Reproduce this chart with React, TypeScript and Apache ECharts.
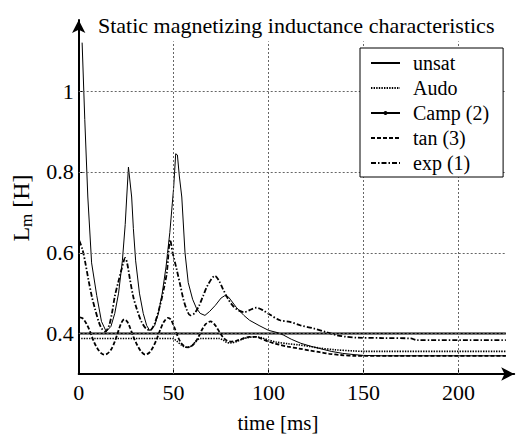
import React, { useEffect, useRef } from "react";
import * as echarts from "echarts";

const FONT = "Liberation Serif, Times New Roman, serif";
const TITLE = "Static magnetizing inductance characteristics";
const X_TICKS = [0, 50, 100, 150, 200];
const Y_TICKS = [0.4, 0.6, 0.8, 1];
const GRID_X = [50, 100, 150, 200];
const GRID_Y = [0.4, 0.6, 0.8, 1];
const T_END = 225;
const GRID_TOP = 1.123;

const unsatData: [number, number][] = [[0, 0.4], [225, 0.4]];

const audoData: [number, number][] = [
  [0, 0.388], [48, 0.388], [50, 0.387], [52, 0.38], [54, 0.372], [56, 0.367], [58, 0.366],
  [60, 0.372], [62, 0.382], [64, 0.388], [74, 0.388], [76, 0.384], [78, 0.378], [80, 0.377],
  [83, 0.38], [86, 0.386], [89, 0.39], [93, 0.392], [96, 0.39], [100, 0.384], [104, 0.379],
  [110, 0.375], [116, 0.372], [122, 0.368], [127, 0.364], [135, 0.36], [145, 0.357],
  [150, 0.356], [225, 0.356],
];

const campData: [number, number][] = [
  [1.8, 1.12], [3.2, 0.93], [4.8, 0.738], [6.8, 0.575], [9.5, 0.494], [12, 0.43], [14.5, 0.405],
  [17, 0.418], [19, 0.45], [21, 0.5], [23, 0.58], [24.5, 0.67], [25.3, 0.738], [26.2, 0.812],
  [27.9, 0.738], [28.8, 0.66], [30, 0.58], [32, 0.5], [34, 0.45], [35.8, 0.42], [37.5, 0.407],
  [40, 0.42], [42, 0.45], [44, 0.5], [46, 0.565], [48, 0.65], [50, 0.76], [51.1, 0.845],
  [52, 0.842], [53, 0.79], [54.3, 0.738], [56, 0.6], [57.7, 0.526], [60, 0.485], [62, 0.463],
  [64, 0.45], [66.5, 0.445], [69, 0.455], [72, 0.47], [75, 0.488], [77, 0.494], [79, 0.49],
  [83, 0.465], [87, 0.445], [90, 0.433], [95, 0.42], [100, 0.408], [105, 0.402], [108, 0.396],
  [112, 0.386], [117, 0.376], [122, 0.369], [127, 0.363], [133, 0.356], [139, 0.351],
  [145, 0.348], [150, 0.346], [160, 0.345], [225, 0.345],
];

const tanData: [number, number][] = [
  [0.5, 0.44], [2, 0.438], [4, 0.425], [6, 0.405], [8, 0.38], [10, 0.362], [12, 0.351],
  [13.5, 0.348], [15, 0.35], [17, 0.36], [19, 0.38], [21, 0.408], [22.5, 0.427], [24, 0.435],
  [25.5, 0.43], [27, 0.415], [29, 0.39], [31, 0.37], [33, 0.355], [35, 0.348], [37, 0.352],
  [39, 0.365], [41, 0.385], [43, 0.41], [45, 0.43], [47, 0.439], [48.5, 0.435], [50, 0.42],
  [52, 0.395], [53.5, 0.38], [55, 0.371], [57, 0.366], [59, 0.368], [61, 0.376], [63, 0.391],
  [65, 0.41], [67, 0.424], [69.5, 0.43], [72, 0.42], [74, 0.405], [76, 0.391], [78, 0.383],
  [80, 0.38], [83, 0.382], [86, 0.387], [90, 0.392], [93, 0.392], [96, 0.388], [100, 0.38],
  [103, 0.376], [106, 0.372], [110, 0.368], [116, 0.363], [122, 0.358], [127, 0.354],
  [132, 0.35], [138, 0.347], [145, 0.345], [225, 0.345],
];

const expData: [number, number][] = [
  [0.3, 0.63], [2, 0.608], [3.5, 0.575], [5.1, 0.534], [7, 0.49], [8.6, 0.461], [10.5, 0.43],
  [12, 0.413], [14, 0.405], [16, 0.42], [17.5, 0.45], [19.1, 0.494], [21, 0.53], [22.6, 0.559],
  [24.5, 0.587], [25.5, 0.575], [27, 0.534], [28.8, 0.49], [30.6, 0.461], [33, 0.43],
  [35.5, 0.412], [37.6, 0.408], [40, 0.425], [42.8, 0.469], [44.8, 0.51], [46.4, 0.55],
  [48.2, 0.632], [49.5, 0.6], [51.6, 0.559], [53.5, 0.52], [55.1, 0.486], [57, 0.458],
  [58.8, 0.445], [61, 0.45], [63.5, 0.47], [65.6, 0.494], [68, 0.52], [71.8, 0.543],
  [74, 0.53], [76, 0.51], [78.8, 0.485], [81, 0.47], [84, 0.458], [87.3, 0.453], [90, 0.458],
  [93.5, 0.464], [97, 0.458], [100, 0.449], [106, 0.433], [111.3, 0.429], [117, 0.42],
  [123.6, 0.413], [130, 0.404], [136, 0.396], [141, 0.392], [146.5, 0.39], [160, 0.389],
  [175, 0.388], [178, 0.384], [225, 0.384],
];

const SERIES_NAMES = ["unsat", "Audo", "Camp (2)", "tan (3)", "exp (1)"];

export default function App() {
  const ref = useRef<HTMLDivElement>(null);
  useEffect(() => {
    if (!ref.current) return;
    const chart = echarts.init(ref.current, null, { renderer: "svg" });
    const gridLineStyle = { color: "#666", width: 1, type: [2, 2] as any };
    const markData: any[] = [];
    GRID_X.forEach((x) => markData.push([{ coord: [x, 0.3] }, { coord: [x, GRID_TOP] }]));
    GRID_Y.forEach((y) => markData.push([{ coord: [0, y] }, { coord: [T_END, y] }]));
    const txt = { fontFamily: FONT, color: "#000" };
    const option: any = {
      animation: false,
      backgroundColor: "#fff",
      title: {
        text: TITLE,
        left: 98,
        top: 14,
        padding: 0,
        textStyle: { ...txt, fontSize: 22, fontWeight: "normal" },
      },
      legend: {
        orient: "vertical",
        left: 360,
        top: 48,
        padding: [5, 14, 4, 10],
        itemGap: 5,
        itemWidth: 29,
        itemHeight: 5,
        backgroundColor: "#fff",
        borderColor: "#000",
        borderWidth: 1,
        borderRadius: 0,
        z: 10,
        textStyle: { ...txt, fontSize: 20, lineHeight: 20, padding: [0, 0, 0, 8] },
        data: SERIES_NAMES.map((n) =>
          n === "Camp (2)"
            ? { name: n, itemStyle: { color: "#000", borderWidth: 0 } }
            : { name: n, itemStyle: { opacity: 0 } }
        ),
      },
      grid: { left: 78.7, right: 12.8, top: 20, bottom: 58.5 },
      xAxis: {
        type: "value",
        min: 0,
        max: 229.4,
        name: "time [ms]",
        nameLocation: "middle",
        nameGap: 38,
        nameTextStyle: { ...txt, fontSize: 21, padding: [0, 37, 0, 0] },
        axisLine: {
          onZero: false,
          symbol: ["none", "arrow"],
          symbolSize: [10, 13],
          lineStyle: { color: "#000", width: 2 },
        },
        axisTick: { inside: true, length: 4, customValues: X_TICKS, lineStyle: { color: "#000", width: 1 } },
        axisLabel: { ...txt, fontSize: 22, margin: 7, customValues: X_TICKS },
        splitLine: { show: false },
      },
      yAxis: {
        type: "value",
        min: 0.3,
        max: 1.176,
        name: "{a|L}{b|m}{a| [H]}",
        nameLocation: "middle",
        nameGap: 42,
        nameTextStyle: {
          ...txt,
          padding: [0, 22, 0, 0],
          rich: {
            a: { fontFamily: FONT, fontSize: 24, color: "#000", lineHeight: 28 },
            b: { fontFamily: FONT, fontSize: 17, color: "#000", verticalAlign: "bottom", lineHeight: 28 },
          },
        },
        axisLine: {
          onZero: false,
          symbol: ["none", "arrow"],
          symbolSize: [10, 13],
          lineStyle: { color: "#000", width: 2 },
        },
        axisTick: { inside: true, length: 4, customValues: Y_TICKS, lineStyle: { color: "#000", width: 1 } },
        axisLabel: { ...txt, fontSize: 22, margin: 5, customValues: Y_TICKS, formatter: (v: number) => String(v) },
        splitLine: { show: false },
      },
      series: [
        {
          name: "_grid",
          type: "line",
          data: [],
          silent: true,
          z: 1,
          markLine: {
            silent: true,
            symbol: ["none", "none"],
            label: { show: false },
            lineStyle: gridLineStyle,
            emphasis: { disabled: true },
            data: markData,
          },
        },
        {
          name: "unsat",
          type: "line",
          data: unsatData,
          symbol: "none",
          z: 3,
          lineStyle: { color: "#000", width: 2 },
          itemStyle: { color: "#000" },
        },
        {
          name: "Audo",
          type: "line",
          data: audoData,
          symbol: "none",
          smooth: 0.3,
          z: 3,
          lineStyle: { color: "#000", width: 1.6, type: [1.4, 1.2] },
          itemStyle: { color: "#000" },
        },
        {
          name: "Camp (2)",
          type: "line",
          data: campData,
          symbol: "circle",
          symbolSize: 4,
          showSymbol: false,
          z: 3,
          lineStyle: { color: "#000", width: 1 },
          itemStyle: { color: "#000" },
        },
        {
          name: "tan (3)",
          type: "line",
          data: tanData,
          symbol: "none",
          smooth: 0.3,
          z: 3,
          lineStyle: { color: "#000", width: 1.8, type: [4, 2] },
          itemStyle: { color: "#000" },
        },
        {
          name: "exp (1)",
          type: "line",
          data: expData,
          symbol: "none",
          smooth: 0.3,
          z: 3,
          lineStyle: { color: "#000", width: 1.8, type: [5, 2, 1.5, 2] },
          itemStyle: { color: "#000" },
        },
      ],
    };
    chart.setOption(option);
    return () => chart.dispose();
  }, []);
  return <div ref={ref} style={{ width: 527, height: 438, position: "absolute", left: 0, top: 0 }} />;
}
